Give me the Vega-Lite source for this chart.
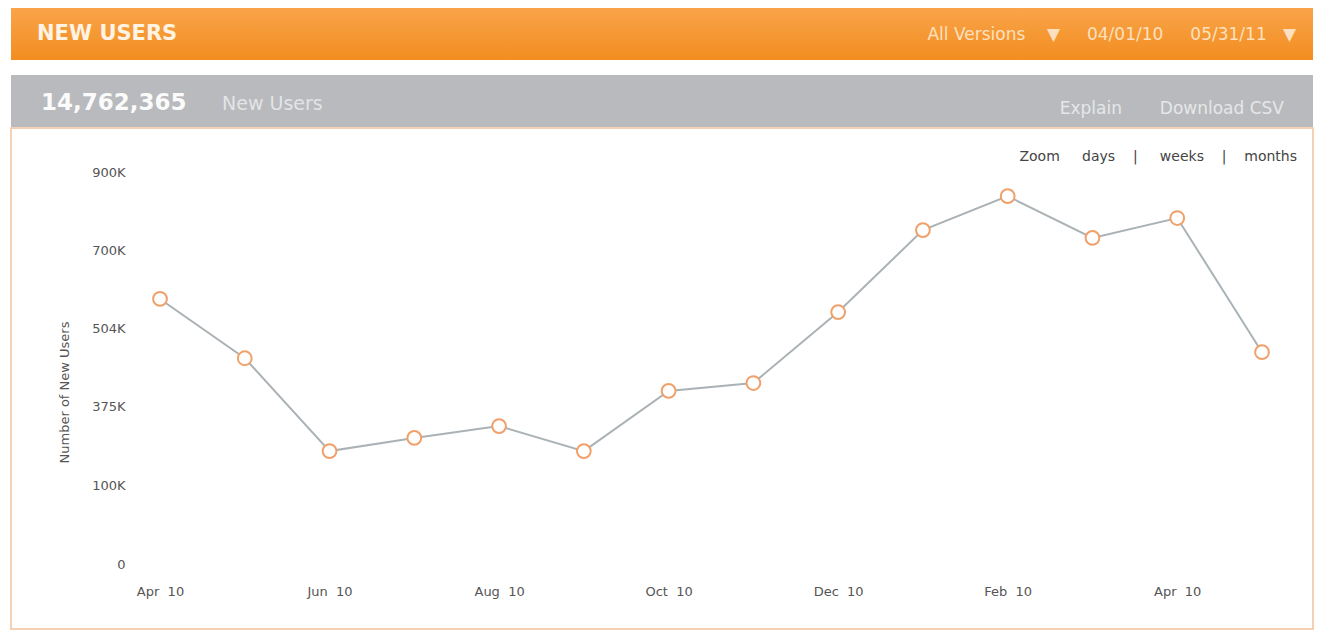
{
  "$schema": "https://vega.github.io/schema/vega-lite/v6.json",
  "background": "white",
  "padding": {"left": 10, "top": 8, "right": 10, "bottom": 5},
  "config": {
    "view": {"stroke": null},
    "concat": {"spacing": 0},
    "font": "DejaVu Sans",
    "title": {"frame": "group", "baseline": "middle"}
  },
  "spacing": 0,
  "vconcat": [
    {
      "spacing": 0,
      "hconcat": [
        {
          "width": 651, "height": 52,
          "view": {"stroke": null, "fill": {"gradient": "linear", "x1": 0, "y1": 0, "x2": 0, "y2": 1, "stops": [{"offset": 0, "color": "#f9a44a"}, {"offset": 1, "color": "#f28d1f"}]}},
          "title": {"text": "NEW USERS", "anchor": "start", "dx": 26, "offset": -36, "color": "#fff3e4", "fontSize": 21, "fontWeight": "bold", "font": "DejaVu Sans"},
          "data": {"values": [{}]},
          "mark": "text"
        },
        {
          "width": 651, "height": 52,
          "view": {"stroke": null, "fill": {"gradient": "linear", "x1": 0, "y1": 0, "x2": 0, "y2": 1, "stops": [{"offset": 0, "color": "#f9a44a"}, {"offset": 1, "color": "#f28d1f"}]}},
          "title": {"text": "All Versions\u00a0\u00a0\u00a0\u00a0▼\u00a0\u00a0\u00a0\u00a0\u00a004/01/10\u00a0\u00a0\u00a0\u00a0\u00a005/31/11\u00a0\u00a0\u00a0▼", "anchor": "end", "dx": -17, "offset": -36, "color": "#fde0bf", "fontSize": 17, "fontWeight": "normal", "font": "DejaVu Sans"},
          "data": {"values": [{}]},
          "mark": "text"
        }
      ]
    },
    {
      "width": 1302, "height": 15,
      "view": {"stroke": null, "fill": "white"},
      "data": {"values": [{}]},
      "mark": "text"
    },
    {
      "spacing": 0,
      "hconcat": [
        {
          "width": 200, "height": 52,
          "view": {"stroke": null, "fill": "#b8babd"},
          "title": {"text": "14,762,365", "anchor": "start", "dx": 30, "offset": -40, "color": "#fbfbfb", "fontSize": 23, "fontWeight": "bold", "font": "DejaVu Sans"},
          "data": {"values": [{}]},
          "mark": "text"
        },
        {
          "width": 451, "height": 52,
          "view": {"stroke": null, "fill": "#b8babd"},
          "title": {"text": "New Users", "anchor": "start", "dx": 11, "offset": -39, "color": "#e3e4e6", "fontSize": 19, "fontWeight": "normal", "font": "DejaVu Sans"},
          "data": {"values": [{}]},
          "mark": "text"
        },
        {
          "width": 651, "height": 52,
          "view": {"stroke": null, "fill": "#b8babd"},
          "title": {"text": "Explain\u00a0\u00a0\u00a0\u00a0\u00a0\u00a0\u00a0Download CSV", "anchor": "end", "dx": -29, "offset": -43, "color": "#e6e7e9", "fontSize": 17, "fontWeight": "normal", "font": "DejaVu Sans"},
          "data": {"values": [{}]},
          "mark": "text"
        }
      ]
    },
    {
      "width": 1302, "height": 501,
      "view": {"fill": "white", "stroke": "#f1c29c", "strokeWidth": 1.5},
      "title": {"text": "Zoom\u00a0\u00a0\u00a0\u00a0\u00a0days\u00a0\u00a0\u00a0\u00a0|\u00a0\u00a0\u00a0\u00a0\u00a0weeks\u00a0\u00a0\u00a0\u00a0|\u00a0\u00a0\u00a0\u00a0months", "anchor": "end", "dx": -16, "offset": -36, "color": "#444444", "fontSize": 14, "fontWeight": "normal", "font": "DejaVu Sans"},
      "data": {
        "values": [
          {"month": "2010-04", "newUsers": 577000},
          {"month": "2010-05", "newUsers": 454000},
          {"month": "2010-06", "newUsers": 218000},
          {"month": "2010-07", "newUsers": 264000},
          {"month": "2010-08", "newUsers": 305000},
          {"month": "2010-09", "newUsers": 218000},
          {"month": "2010-10", "newUsers": 400000},
          {"month": "2010-11", "newUsers": 413000},
          {"month": "2010-12", "newUsers": 544000},
          {"month": "2011-01", "newUsers": 751000},
          {"month": "2011-02", "newUsers": 838000},
          {"month": "2011-03", "newUsers": 731000},
          {"month": "2011-04", "newUsers": 782000},
          {"month": "2011-05", "newUsers": 464000}
        ]
      },
      "encoding": {
        "x": {
          "field": "month", "type": "ordinal",
          "scale": {"type": "point", "range": [149, 1251], "padding": 0},
          "axis": {
            "title": null, "orient": "bottom", "offset": -44, "domain": false, "ticks": false, "grid": false,
            "labelPadding": 0, "labelAngle": 0, "labelFontSize": 13, "labelColor": "#555555", "labelFont": "DejaVu Sans", "labelBaseline": "top",
            "values": ["2010-04", "2010-06", "2010-08", "2010-10", "2010-12", "2011-02", "2011-04"],
            "labelExpr": "['','Jan','Feb','Mar','Apr','May','Jun','Jul','Aug','Sep','Oct','Nov','Dec'][toNumber(substring(datum.value,5,7))] + '\u00a0\u00a010'"
          }
        },
        "y": {
          "field": "newUsers", "type": "quantitative",
          "scale": {"domain": [0, 100000, 375000, 504000, 700000, 900000], "range": [436, 357, 278, 200, 122, 44], "zero": false, "nice": false},
          "axis": {
            "title": "Number of New Users", "offset": -114, "domain": false, "ticks": false, "grid": false,
            "labelPadding": 0, "labelFontSize": 13, "labelColor": "#555555", "labelFont": "DejaVu Sans",
            "values": [0, 100000, 375000, 504000, 700000, 900000],
            "labelExpr": "datum.value == 0 ? '0' : format(datum.value / 1000, 'd') + 'K'",
            "titleFont": "DejaVu Sans", "titleFontSize": 13, "titleFontWeight": "normal", "titleColor": "#555555",
            "titleAngle": -90, "titleX": -61, "titleY": 264, "titleAlign": "center", "titleBaseline": "middle"
          }
        }
      },
      "layer": [
        {"mark": {"type": "line", "color": "#abb2b6", "strokeWidth": 2}},
        {"mark": {"type": "point", "filled": true, "fill": "white", "stroke": "#f0a06a", "strokeWidth": 2, "size": 190, "opacity": 1}}
      ]
    }
  ]
}
